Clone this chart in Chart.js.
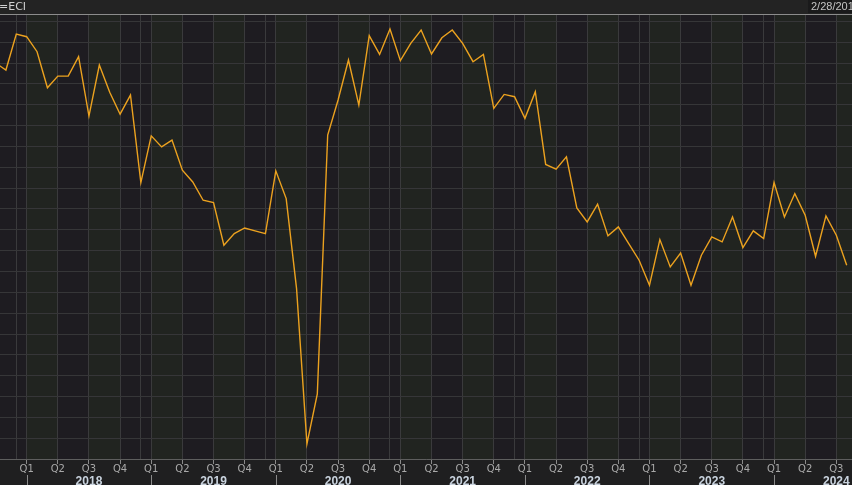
<!DOCTYPE html>
<html><head><meta charset="utf-8">
<script src="https://cdn.jsdelivr.net/npm/chart.js@4.4.1/dist/chart.umd.min.js"></script>
<style>html,body{margin:0;padding:0;background:#1f1f20;overflow:hidden}canvas{display:block}</style>
</head><body>
<canvas id="c" width="852" height="485"></canvas>
<script>
// Monthly observations (Oct 2017 - Aug 2024)
const months = [
 '2017-10','2017-11','2017-12',
 '2018-01','2018-02','2018-03','2018-04','2018-05','2018-06','2018-07','2018-08','2018-09','2018-10','2018-11','2018-12',
 '2019-01','2019-02','2019-03','2019-04','2019-05','2019-06','2019-07','2019-08','2019-09','2019-10','2019-11','2019-12',
 '2020-01','2020-02','2020-03','2020-04','2020-05','2020-06','2020-07','2020-08','2020-09','2020-10','2020-11','2020-12',
 '2021-01','2021-02','2021-03','2021-04','2021-05','2021-06','2021-07','2021-08','2021-09','2021-10','2021-11','2021-12',
 '2022-01','2022-02','2022-03','2022-04','2022-05','2022-06','2022-07','2022-08','2022-09','2022-10','2022-11','2022-12',
 '2023-01','2023-02','2023-03','2023-04','2023-05','2023-06','2023-07','2023-08','2023-09','2023-10','2023-11','2023-12',
 '2024-01','2024-02','2024-03','2024-04','2024-05','2024-06','2024-07','2024-08'
];
const values = [
 19.01,18.67,20.40,
 20.27,19.55,17.82,18.38,18.38,19.31,16.46,18.91,17.60,16.55,17.47,13.27,
 15.51,14.98,15.31,13.86,13.30,12.42,12.31,10.26,10.82,11.09,10.95,10.82,
 13.83,12.50,8.18,0.73,3.13,15.55,17.23,19.15,16.99,20.32,19.42,20.64,
 19.12,19.95,20.59,19.44,20.22,20.59,19.95,19.07,19.42,16.83,17.50,17.39,
 16.35,17.63,14.14,13.91,14.50,12.05,11.38,12.23,10.71,11.14,10.34,9.54,
 8.34,10.53,9.22,9.89,8.34,9.78,10.66,10.42,11.62,10.15,10.95,10.58,
 13.27,11.62,12.74,11.70,9.73,11.67,10.74,9.30
];
const quarterLabels = ['Q1','Q2','Q3','Q4'];
const years = ['2018','2019','2020','2021','2022','2023','2024'];
const headerLeft = '=ECI';
const headerRight = '2/28/201';

const BASE_YEAR = 2018;
const monthIndex = s => (parseInt(s.slice(0,4)) - BASE_YEAR) * 12 + parseInt(s.slice(5,7)) - 1;
const points = months.map((m, i) => ({ x: monthIndex(m), y: values[i] }));
const mod12 = v => ((Math.round(v) % 12) + 12) % 12;

const X_MIN = -2.57, X_MAX = 79.51;
const Y_MIN = 0, Y_MAX = 21.36;

const decor = {
  id: 'decor',
  beforeDraw(chart) {
    const { ctx, chartArea: a, scales: { x } } = chart;
    ctx.save();
    ctx.fillStyle = '#1f1f20';
    ctx.fillRect(0, 0, chart.width, chart.height);
    ctx.fillStyle = '#232323';
    ctx.fillRect(0, 0, chart.width, a.top);
    // quarter bands
    for (let m = -6; m <= 84; m += 3) {
      const q = mod12(m) / 3;
      const x0 = Math.max(a.left, x.getPixelForValue(m));
      const x1 = Math.min(a.right, x.getPixelForValue(m + 3));
      if (x1 <= x0) continue;
      ctx.fillStyle = (q % 2 === 0) ? '#212420' : '#1e1c21';
      ctx.fillRect(x0, a.top, x1 - x0, a.bottom - a.top);
    }
    ctx.restore();
  },
  afterDraw(chart) {
    const { ctx, scales: { x } } = chart;
    ctx.save();
    // year row
    const top = x.bottom;
    ctx.strokeStyle = '#8a8a8a';
    ctx.lineWidth = 1;
    years.forEach((y, i) => {
      const m = (parseInt(y) - BASE_YEAR) * 12;
      const px = Math.round(x.getPixelForValue(m)) + 0.5;
      if (px >= 0 && px <= chart.width) {
        ctx.beginPath(); ctx.moveTo(px, top); ctx.lineTo(px, chart.height); ctx.stroke();
      }
    });
    ctx.font = 'bold 12px "Liberation Sans", Arial, sans-serif';
    ctx.fillStyle = '#c9d3de';
    ctx.textAlign = 'center';
    ctx.textBaseline = 'middle';
    years.forEach(y => {
      const m = (parseInt(y) - BASE_YEAR) * 12 + 6;
      ctx.fillText(y, x.getPixelForValue(m), top + 7);
    });
    // header texts
    ctx.textAlign = 'left';
    ctx.font = '11px "DejaVu Sans", sans-serif';
    ctx.fillStyle = '#d0d0d0';
    ctx.fillText(headerLeft, -1, 7);
    ctx.fillStyle = '#1a1a1b';
    ctx.fillRect(808, 0, chart.width - 808, chart.chartArea.top - 1);
    ctx.font = '11px "Liberation Sans", Arial, sans-serif';
    ctx.fillStyle = '#c4c4c4';
    ctx.fillText(headerRight, 811, 7);
    ctx.restore();
  }
};

new Chart(document.getElementById('c'), {
  type: 'line',
  data: {
    datasets: [{
      data: points,
      borderColor: '#eca21f',
      borderWidth: 1.4,
      pointRadius: 0,
      tension: 0,
      fill: false
    }]
  },
  options: {
    responsive: false,
    animation: false,
    devicePixelRatio: 1,
    layout: { padding: { top: 14, bottom: 10, left: 0, right: 0 } },
    plugins: { legend: { display: false }, tooltip: { enabled: false }, title: { display: false } },
    scales: {
      x: {
        type: 'linear',
        min: X_MIN, max: X_MAX,
        afterBuildTicks: s => {
          const t = [];
          for (let m = -12; m <= 96; m++) {
            const mm = mod12(m);
            if ((mm % 3 === 0 || mm === 11) && m >= s.min && m <= s.max) t.push({ value: m });
          }
          s.ticks = t;
        },
        ticks: {
          autoSkip: false, maxRotation: 0, minRotation: 0, padding: 0,
          color: '#a9a9a9',
          font: { family: '"DejaVu Sans", sans-serif', size: 10, lineHeight: 1.1 },
          callback: v => { const mm = mod12(v); return mm % 3 === 0 ? quarterLabels[mm / 3] : ''; }
        },
        grid: {
          color: '#3a3a3c',
          lineWidth: 1,
          tickLength: 5,
          tickColor: c => (c.tick && mod12(c.tick.value) === 11) ? 'rgba(0,0,0,0)' : '#8a8a8a'
        },
        border: { display: true, color: '#5e5e5e', width: 1 }
      },
      y: {
        min: Y_MIN, max: Y_MAX,
        afterBuildTicks: s => {
          const t = [];
          for (let k = 0; k <= 21; k++) t.push({ value: k });
          t.push({ value: Y_MAX });
          s.ticks = t;
        },
        ticks: { display: false },
        grid: {
          drawTicks: false,
          color: c => (c.tick && c.tick.value === Y_MAX) ? '#8c8c8c' : '#363638',
          lineWidth: 1
        },
        border: { display: false }
      }
    }
  },
  plugins: [decor]
});
</script>
</body></html>
